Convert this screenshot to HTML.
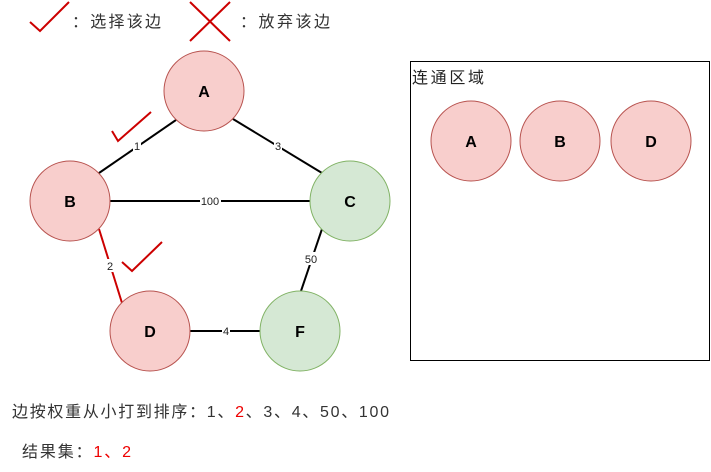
<!DOCTYPE html>
<html><head><meta charset="utf-8"><style>
html,body{margin:0;padding:0;background:#fff;width:711px;height:472px;overflow:hidden}
svg{display:block}
text{font-family:"Liberation Sans","Noto Sans CJK SC",sans-serif}
</style></head><body>
<svg width="711" height="472" viewBox="0 0 711 472" xmlns="http://www.w3.org/2000/svg">
<!-- legend -->
<polyline points="30,22 40,31 69,2" fill="none" stroke="#c00" stroke-width="2"/>
<text x="72" y="27" font-size="16" fill="#333" textLength="89" lengthAdjust="spacing">：选择该边</text>
<line x1="190" y1="2" x2="230" y2="41" stroke="#c00" stroke-width="2"/>
<line x1="190" y1="41" x2="230" y2="2" stroke="#c00" stroke-width="2"/>
<text x="240" y="27" font-size="16" fill="#333" textLength="90" lengthAdjust="spacing">：放弃该边</text>
<!-- edges -->
<line x1="176" y1="120" x2="99" y2="173" stroke="#000" stroke-width="2"/>
<line x1="233" y1="119" x2="322" y2="173" stroke="#000" stroke-width="2"/>
<line x1="110" y1="201" x2="310" y2="201" stroke="#000" stroke-width="2"/>
<line x1="99" y1="229" x2="122" y2="303" stroke="#c00" stroke-width="2"/>
<line x1="322" y1="229" x2="301" y2="291" stroke="#000" stroke-width="2"/>
<line x1="190" y1="331" x2="260" y2="331" stroke="#000" stroke-width="2"/>
<!-- edge labels -->
<g font-size="11" text-anchor="middle" fill="#222">
<rect x="133" y="139" width="8" height="13" fill="#fff"/><text x="137" y="150">1</text>
<rect x="274" y="139" width="8" height="13" fill="#fff"/><text x="278" y="150">3</text>
<rect x="200" y="195" width="21" height="13" fill="#fff"/><text x="210" y="205">100</text>
<rect x="106" y="259" width="8" height="13" fill="#fff"/><text x="110" y="270">2</text>
<rect x="304" y="252" width="15" height="13" fill="#fff"/><text x="311" y="263">50</text>
<rect x="222" y="325" width="8" height="13" fill="#fff"/><text x="226" y="335">4</text>
</g>
<!-- checks -->
<polyline points="112,131 118,141 151,112" fill="none" stroke="#c00" stroke-width="2"/>
<polyline points="122,262 132,271 162,242" fill="none" stroke="#c00" stroke-width="2"/>
<!-- nodes -->
<g stroke-width="1" font-size="16" font-weight="bold" text-anchor="middle">
<circle cx="204" cy="91" r="40" fill="#f8cecc" stroke="#b85450"/><text x="204" y="97">A</text>
<circle cx="70" cy="201" r="40" fill="#f8cecc" stroke="#b85450"/><text x="70" y="207">B</text>
<circle cx="350" cy="201" r="40" fill="#d5e8d4" stroke="#82b366"/><text x="350" y="207">C</text>
<circle cx="150" cy="331" r="40" fill="#f8cecc" stroke="#b85450"/><text x="150" y="337">D</text>
<circle cx="300" cy="331" r="40" fill="#d5e8d4" stroke="#82b366"/><text x="300" y="337">F</text>
</g>
<!-- box -->
<rect x="410.5" y="61.5" width="299" height="299" fill="none" stroke="#000" stroke-width="1"/>
<text x="412" y="83" font-size="16" fill="#222" textLength="72" lengthAdjust="spacing">连通区域</text>
<g font-size="16" font-weight="bold" text-anchor="middle">
<circle cx="471" cy="141" r="40" fill="#f8cecc" stroke="#b85450"/><text x="471" y="147">A</text>
<circle cx="560" cy="141" r="40" fill="#f8cecc" stroke="#b85450"/><text x="560" y="147">B</text>
<circle cx="651" cy="141" r="40" fill="#f8cecc" stroke="#b85450"/><text x="651" y="147">D</text>
</g>
<!-- bottom text -->
<text x="12" y="417" font-size="16" fill="#333" textLength="377" lengthAdjust="spacing">边按权重从小打到排序：1、<tspan fill="#e00">2</tspan>、3、4、50、100</text>
<text x="22" y="457" font-size="16" fill="#333" textLength="109" lengthAdjust="spacing">结果集：<tspan fill="#e00">1、2</tspan></text>
</svg>
</body></html>
